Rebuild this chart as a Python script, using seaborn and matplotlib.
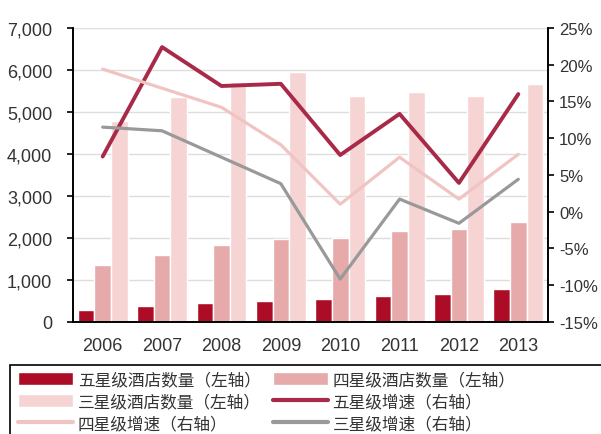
import numpy as np
import pandas as pd
import matplotlib
matplotlib.use("Agg")
import matplotlib.pyplot as plt
from matplotlib.patches import Rectangle, Patch
from matplotlib.lines import Line2D
from matplotlib.ticker import FuncFormatter
import seaborn as sns

# Data
years = ["2006", "2007", "2008", "2009", "2010", "2011", "2012", "2013"]
five_star = [286, 367, 448, 486, 541, 620, 660, 780]
four_star = [1359, 1597, 1835, 1971, 1995, 2169, 2210, 2370]
three_star = [4790, 5349, 5707, 5945, 5387, 5468, 5387, 5666]

five_growth = [7.5, 22.4, 17.1, 17.4, 7.7, 13.3, 3.9, 16.0]
four_growth = [19.4, 16.8, 14.2, 9.1, 1.0, 7.4, 1.7, 7.8]
three_growth = [11.5, 11.0, 7.4, 3.8, -9.2, 1.7, -1.6, 4.4]

bar_names = ["五星级酒店数量（左轴）", "四星级酒店数量（左轴）", "三星级酒店数量（左轴）"]
line_names = ["五星级增速（右轴）", "四星级增速（右轴）", "三星级增速（右轴）"]

bar_colors = ["#AC0C25", "#E6AAAA", "#F6D4D4"]
line_colors = ["#A82A48", "#F1C4C4", "#999999"]

sns.set_style("white")
plt.rcParams['font.family'] = ['Liberation Sans', 'DejaVu Sans']
cjk = ['Noto Sans CJK SC', 'DejaVu Sans']

bars = pd.DataFrame({
    "year": years * 3,
    "count": five_star + four_star + three_star,
    "type": [bar_names[0]] * 8 + [bar_names[1]] * 8 + [bar_names[2]] * 8,
})
lines = pd.DataFrame({
    "year": years * 3,
    "growth": five_growth + four_growth + three_growth,
    "type": [line_names[0]] * 8 + [line_names[1]] * 8 + [line_names[2]] * 8,
})

fig = plt.figure(figsize=(6.01, 4.35), dpi=100)
ax = fig.add_axes([73 / 601, 1 - 322.7 / 435, 475 / 601, 293.7 / 435])

sns.barplot(data=bars, x="year", y="count", hue="type", palette=bar_colors,
            width=0.84, saturation=1, ax=ax, legend=False)
ax.set_ylim(0, 7000)
ax.set_xlim(-0.5, 7.5)
ax.set_yticks(range(0, 7001, 1000))
ax.yaxis.set_major_formatter(FuncFormatter(lambda v, p: f"{int(v):,}"))
ax.set_axisbelow(True)
ax.grid(axis="y", color="#DDDDDD", linewidth=1)
ax.set_xlabel("")
ax.set_ylabel("")

# tick marks between groups, labels at the group centres
ax.set_xticks(np.arange(-0.5, 8, 1), labels=[""] * 9)
ax.set_xticks(range(8), labels=years, minor=True)
ax.tick_params(axis="x", which="major", direction="out", length=5, width=1.2, color="black")
ax.tick_params(axis="x", which="minor", length=0, pad=11, labelsize=13, labelcolor="#333333")
ax.tick_params(axis="y", direction="out", length=4, width=1.2, color="black",
               pad=11, labelsize=13, labelcolor="#333333", left=True)

ax2 = ax.twinx()
sns.lineplot(data=lines, x="year", y="growth", hue="type", palette=line_colors,
             ax=ax2, legend=False, sort=False)
for ln, lw in zip(ax2.lines, [2.8, 2.3, 2.3]):
    ln.set_linewidth(lw)
ax2.set_ylim(-15, 25)
ax2.set_yticks(range(-15, 26, 5))
ax2.yaxis.set_major_formatter(FuncFormatter(lambda v, p: f"{int(v)}%"))
ax2.set_xlim(-0.5, 7.5)
ax2.set_ylabel("")
ax2.tick_params(axis="y", direction="out", length=4, width=1.2, color="black",
                pad=4, labelsize=12, labelcolor="#333333", right=True)

for a in (ax, ax2):
    a.spines["top"].set_visible(False)
    for s in ("left", "right", "bottom"):
        a.spines[s].set_color("black")
        a.spines[s].set_linewidth(1.2)

# Legend
handles = [
    Patch(facecolor=bar_colors[0], label=bar_names[0]),
    Patch(facecolor=bar_colors[2], label=bar_names[2]),
    Line2D([0], [0], color=line_colors[1], lw=3, label=line_names[1]),
    Patch(facecolor=bar_colors[1], label=bar_names[1]),
    Line2D([0], [0], color=line_colors[0], lw=3, label=line_names[0]),
    Line2D([0], [0], color=line_colors[2], lw=3, label=line_names[2]),
]
fig.legend(handles=handles, loc="upper left", bbox_to_anchor=(18 / 601, 1 - 372 / 435),
           ncol=2, frameon=False, borderpad=0, borderaxespad=0,
           handlelength=3.3, handleheight=0.8, handletextpad=0.3, columnspacing=0.7,
           labelspacing=0.3, prop={"family": cjk, "size": 12}, labelcolor="#333333")
fig.patches.append(Rectangle((10 / 601, -0.2), 1.2, 0.2 + 1 - 366 / 435, fill=False,
                             edgecolor="black", linewidth=1.2, transform=fig.transFigure))

fig.savefig("out.png", dpi=100)
